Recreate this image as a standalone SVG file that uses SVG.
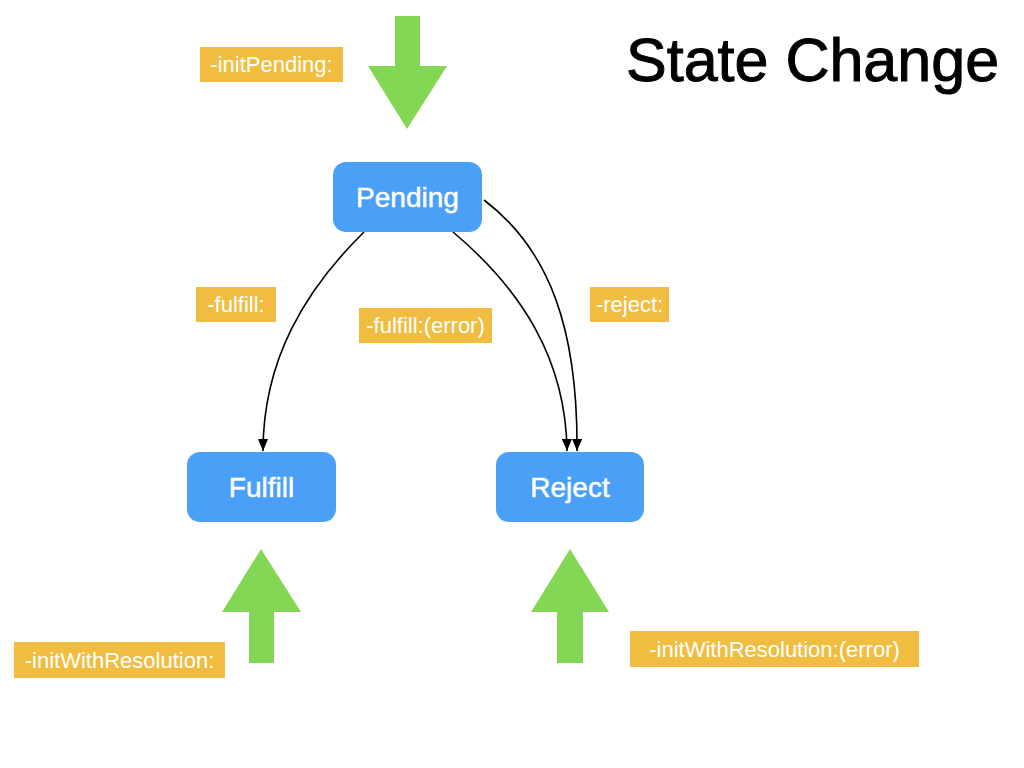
<svg xmlns="http://www.w3.org/2000/svg" width="1024" height="768" viewBox="0 0 1024 768">
<defs>
<style>
.node rect{fill:#4a9ff6}
.node text{fill:#fff;stroke:#fff;stroke-width:0.5;font-family:"Liberation Sans",Arial,sans-serif;font-size:28px;text-anchor:middle}
.lbl rect{fill:#f0bd41}
.lbl text{fill:#fff;font-family:"Liberation Sans",Arial,sans-serif;font-size:22px;text-anchor:middle}
.big{fill:#84d755}
.conn path{fill:none;stroke:#000;stroke-width:1.6}
</style>
<marker id="ah" viewBox="0 0 12 10" refX="12" refY="5" markerWidth="12" markerHeight="10" markerUnits="userSpaceOnUse" orient="auto">
<path d="M0,0 L12,5 L0,10 z" fill="#000"/>
</marker>
</defs>
<rect width="1024" height="768" fill="#fff"/>
<text x="626" y="81" font-family="Liberation Sans,Arial,sans-serif" font-size="61" fill="#000" stroke="#000" stroke-width="1">State Change</text>

<g id="arrow-init-pending"><polygon class="big" points="395,16 420,16 420,66 447,66 407,129 368,66 395,66"/></g>
<g id="arrow-init-fulfill"><polygon class="big" points="261,549 301,612 274,612 274,663 249,663 249,612 222,612"/></g>
<g id="arrow-init-reject"><polygon class="big" points="570,549 609,612 583,612 583,663 557,663 557,612 531,612"/></g>

<g class="conn" id="connectors">
<path d="M364,232 C305,290 263,360 263,451" marker-end="url(#ah)"/>
<path d="M453,232 C522,290 566,360 567,451" marker-end="url(#ah)"/>
<path d="M484,200 C550,250 578,330 577,451" marker-end="url(#ah)"/>
</g>

<g class="node" id="pending"><rect x="333" y="162" width="149" height="70" rx="13"/><text x="407.5" y="207">Pending</text></g>
<g class="node" id="fulfill"><rect x="187" y="452" width="149" height="70" rx="13"/><text x="261.5" y="497">Fulfill</text></g>
<g class="node" id="reject"><rect x="496" y="452" width="148" height="70" rx="13"/><text x="570" y="497">Reject</text></g>

<g class="lbl" id="lbl-initPending"><rect x="200" y="47" width="143" height="35"/><text x="271.5" y="72">-initPending:</text></g>
<g class="lbl" id="lbl-fulfill"><rect x="196" y="287" width="80" height="35"/><text x="236" y="312">-fulfill:</text></g>
<g class="lbl" id="lbl-fulfill-error"><rect x="359" y="308" width="133" height="35"/><text x="425.5" y="333">-fulfill:(error)</text></g>
<g class="lbl" id="lbl-reject"><rect x="590" y="287" width="79" height="35"/><text x="629.5" y="312">-reject:</text></g>
<g class="lbl" id="lbl-initWithResolution"><rect x="14" y="642" width="211" height="36"/><text x="119.5" y="668">-initWithResolution:</text></g>
<g class="lbl" id="lbl-initWithResolution-error"><rect x="630" y="631" width="289" height="36"/><text x="774.5" y="657">-initWithResolution:(error)</text></g>
</svg>
